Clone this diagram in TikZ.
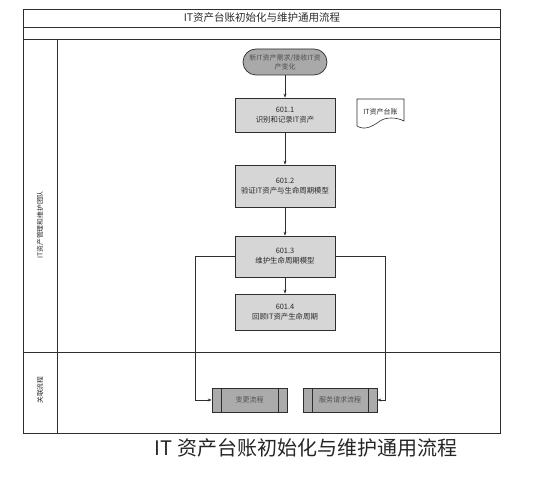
\documentclass[tikz,border=0pt]{standalone}
\usepackage{fontspec}
\setmainfont{Liberation Sans}
\newfontfamily\cjk{Noto Sans CJK SC}
\usetikzlibrary{arrows.meta}
\definecolor{lineC}{HTML}{2E2E2E}
\definecolor{boxF}{HTML}{D6D6D6}
\definecolor{termF}{HTML}{A9A9A9}
\definecolor{subF}{HTML}{ABABAB}
\definecolor{txtC}{HTML}{2A2A2A}
\definecolor{txtG}{HTML}{505050}
\tikzset{
  frame/.style={draw=lineC, line width=0.8pt},
  procbox/.style={draw=lineC, line width=0.7pt, fill=boxF, minimum width=100pt,
    align=center, font=\cjk\fontsize{7.4}{9.8}\selectfont, text=txtC, inner sep=1pt},
  termbox/.style={draw=lineC, line width=0.7pt, fill=termF, rounded corners=13pt,
    minimum width=84pt, minimum height=26pt, align=center,
    font=\cjk\fontsize{7}{9}\selectfont, text=txtG, inner sep=1pt},
  subbox/.style={draw=lineC, line width=0.7pt, fill=subF, minimum height=24pt,
    font=\cjk\fontsize{7}{9}\selectfont, text=txtG, inner sep=1pt},
  arr/.style={draw=lineC, line width=0.6pt, -{Stealth[length=4pt,width=3pt]}},
  lanelabel/.style={rotate=90, font=\cjk\fontsize{6.8}{8}\selectfont, text=txtC},
}
\begin{document}
\begin{tikzpicture}[x=1pt,y=-1pt]
\useasboundingbox (0,0) rectangle (549,497);
% frame
\draw[frame] (23,9) rectangle (500,433);
\draw[frame] (23,27) -- (500,27);
\draw[frame] (23,39) -- (500,39);
\draw[frame] (57,39) -- (57,433);
\draw[frame] (23,352) -- (500,352);
\node[font=\cjk\fontsize{10.5}{12}\selectfont, text=txtC] (title) at (262,18) {IT资产台账初始化与维护通用流程};
% lane labels
\node[lanelabel] (lane1) at (40,225) {IT资产管理和维护团队};
\node[lanelabel] (lane2) at (40,390) {关联流程};
% process nodes
\node[termbox] (start) at (285,62) {新IT资产需求/接收IT资\\产变化};
\node[procbox, minimum height=34pt] (b1) at (285,115) {601.1\\识别和记录IT资产};
\node[procbox, minimum height=42pt] (b2) at (285,186) {601.2\\验证IT资产与生命周期模型};
\node[procbox, minimum height=41pt] (b3) at (285,256.5) {601.3\\维护生命周期模型};
\node[procbox, minimum height=36pt] (b4) at (285,312) {601.4\\回顾IT资产生命周期};
% document
\coordinate (dNW) at (357,99);
\coordinate (dNE) at (404,99);
\coordinate (dSE) at (404,121);
\coordinate (dSW) at (357,126);
\draw[draw=lineC, line width=0.6pt, fill=white]
  (dNW) -- (dNE) -- (dSE)
  .. controls (396,117) and (386,117) .. (380,121)
  .. controls (373,126) and (365,131) .. (dSW)
  -- cycle;
\node[font=\cjk\fontsize{7}{8}\selectfont, text=txtC, inner sep=0pt] (doc) at (380.5,112) {IT资产台账};
% sub-process
\node[subbox, minimum width=75pt] (s1) at (249.5,400) {变更流程};
\node[subbox, minimum width=74pt] (s2) at (340,400) {服务请求流程};
\foreach \s in {s1,s2}{
  \draw[draw=lineC, line width=0.6pt] ([xshift=9.5pt]\s.north west) -- ([xshift=9.5pt]\s.south west);
  \draw[draw=lineC, line width=0.6pt] ([xshift=-9.5pt]\s.north east) -- ([xshift=-9.5pt]\s.south east);
}
% connectors
\draw[arr] (start) -- (b1);
\draw[arr] (b1) -- (b2);
\draw[arr] (b2) -- (b3);
\draw[arr] (b3) -- (b4);
\coordinate (L) at (195,400);
\coordinate (R) at (385,400);
\draw[arr] (b3.west) -| (L) -- (s1.west);
\draw[arr] (b3.east) -| (R) -- (s2.east);
% caption
\node[font=\cjk\fontsize{20}{24}\selectfont, text=black!85] (caption) at (306,448) {IT 资产台账初始化与维护通用流程};
\end{tikzpicture}
\end{document}
